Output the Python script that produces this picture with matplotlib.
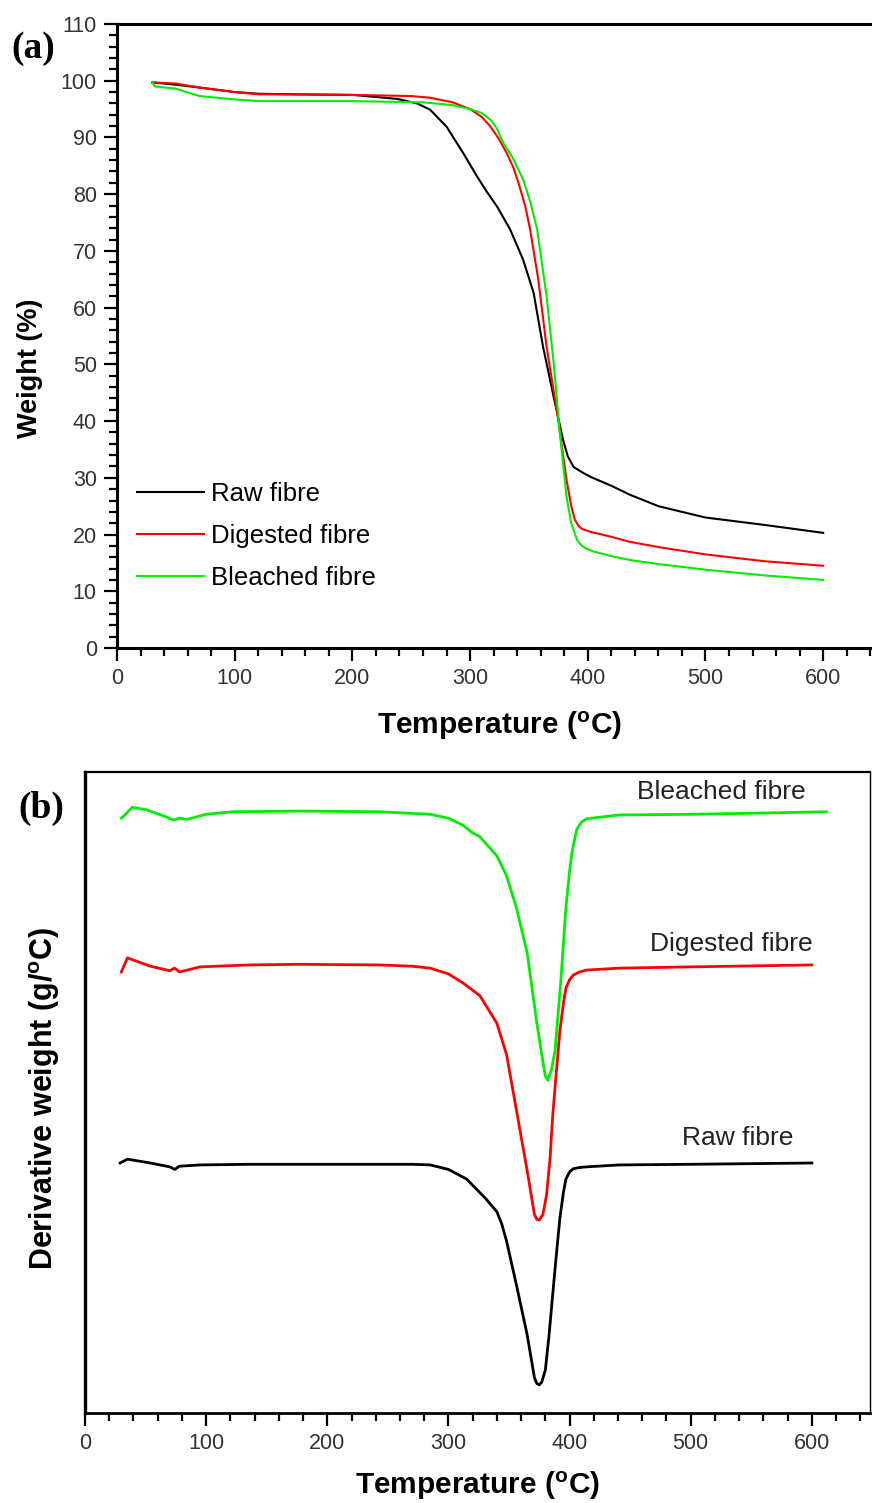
import matplotlib
matplotlib.use("Agg")
import matplotlib.pyplot as plt
from matplotlib.ticker import MultipleLocator

plt.rcParams['font.family'] = ['Liberation Sans', 'DejaVu Sans']
plt.rcParams['mathtext.fontset'] = 'custom'
plt.rcParams['mathtext.rm'] = 'Liberation Sans'
plt.rcParams['mathtext.bf'] = 'Liberation Sans:bold'

# ---------------- Panel (a): TGA ----------------
raw_T = [30, 50, 70, 100, 121, 150, 200, 238, 255, 266, 280, 294, 306, 314, 323, 334, 345,
         354, 362, 371, 379, 383, 388, 395, 402, 420, 436, 460, 500, 550, 600]
raw_W = [99.7, 99.3, 98.8, 98.0, 97.7, 97.6, 97.5, 96.8, 96.0, 94.9, 91.9, 87.3, 83.1, 80.5,
         77.8, 73.8, 68.5, 62.6, 53.1, 44.3, 36.7, 33.8, 31.9, 31.0, 30.2, 28.6, 27.0, 25.0,
         23.0, 21.7, 20.3]

dig_T = [30, 50, 70, 100, 121, 150, 200, 250, 266, 285, 300, 310, 317, 324, 331, 337, 342,
         347, 351, 358, 365, 374, 382, 386, 389, 392, 395, 402, 420, 436, 460, 500, 550, 600]
dig_W = [99.7, 99.5, 98.8, 98.0, 97.6, 97.6, 97.5, 97.3, 97.0, 96.2, 95.0, 93.6, 92.0, 89.9,
         87.3, 84.6, 81.4, 77.8, 73.8, 64.9, 53.1, 41.5, 29.6, 25.0, 22.6, 21.6, 21.0, 20.5,
         19.6, 18.7, 17.8, 16.5, 15.3, 14.5]

ble_T = [30, 32, 50, 70, 100, 121, 150, 200, 260, 285, 300, 310, 318, 323, 328, 336, 345,
         351, 357, 365, 371, 376, 382, 386, 391, 395, 398, 405, 420, 436, 460, 500, 550, 600]
ble_W = [99.8, 99.0, 98.6, 97.3, 96.7, 96.4, 96.4, 96.4, 96.2, 95.7, 95.0, 94.3, 93.0, 91.5,
         89.1, 86.5, 82.6, 78.8, 73.8, 62.0, 50.3, 38.5, 26.6, 22.0, 19.0, 18.0, 17.6, 17.0,
         16.2, 15.5, 14.8, 13.8, 12.8, 12.0]

series_labels = ["Raw fibre", "Digested fibre", "Bleached fibre"]

# ---------------- Panel (b): DTG (arbitrary offset units) ----------------
dtg_ble_T = [30, 33, 39, 51, 67, 73, 78, 84, 100, 122, 177, 243, 285, 300, 312, 320, 326, 340,
             348, 356, 365, 373, 378, 380, 382, 385, 388, 390, 393, 397, 400, 402, 406, 410,
             414, 441, 500, 560, 612]
dtg_ble_y = [92.8, 93.3, 94.5, 94.1, 93.0, 92.5, 92.8, 92.6, 93.4, 93.8, 93.9, 93.8, 93.4,
             92.8, 91.7, 90.5, 89.9, 86.9, 83.8, 78.9, 71.8, 60.8, 54.8, 52.6, 51.9, 53.5,
             56.5, 61.0, 68.0, 78.9, 84.5, 87.5, 91.1, 92.2, 92.7, 93.3, 93.4, 93.6, 93.8]

dtg_dig_T = [30, 35, 54, 70, 74, 78, 95, 136, 177, 243, 270, 285, 300, 312, 326, 340, 348,
             356, 365, 371, 373, 375, 378, 381, 384, 386, 389, 392, 395, 397, 400, 403, 408,
             414, 441, 500, 600]
dtg_dig_y = [68.8, 71.0, 69.7, 69.0, 69.4, 68.8, 69.6, 69.9, 70.0, 69.9, 69.7, 69.4, 68.5,
             67.1, 65.1, 60.8, 55.9, 47.4, 37.8, 31.0, 30.2, 30.1, 31.0, 34.0, 40.0, 46.2,
             53.0, 59.6, 64.0, 66.3, 67.6, 68.3, 68.8, 69.1, 69.4, 69.6, 69.9]

dtg_raw_T = [29, 35, 54, 70, 74, 78, 95, 136, 177, 243, 270, 285, 300, 315, 331, 340, 344,
             348, 356, 365, 371, 373, 375, 377, 380, 383, 386, 389, 392, 395, 397, 400, 403,
             408, 414, 441, 500, 600]
dtg_raw_y = [39.0, 39.6, 39.0, 38.4, 38.0, 38.5, 38.7, 38.8, 38.8, 38.8, 38.8, 38.7, 38.0,
             36.5, 33.4, 31.4, 29.5, 26.8, 20.1, 12.2, 5.5, 4.6, 4.4, 4.8, 6.7, 12.0, 18.3,
             24.5, 30.4, 34.5, 36.5, 37.6, 38.1, 38.3, 38.4, 38.7, 38.8, 39.0]

W, H = 872, 1503
fig = plt.figure(figsize=(W / 100, H / 100), dpi=100)

tick_color = '#333333'
serif = ['Liberation Serif', 'DejaVu Serif']

# ---- Panel (a)
ax1 = fig.add_axes([117 / W, 1 - 648 / H, (882 - 117) / W, (648 - 24) / H])
ax1.plot(raw_T, raw_W, color='black', lw=1.5, label=series_labels[0])
ax1.plot(dig_T, dig_W, color='#ff0000', lw=1.5, label=series_labels[1])
ax1.plot(ble_T, ble_W, color='#00ee00', lw=1.5, label=series_labels[2])
ax1.set_xlim(0, 650)
ax1.set_ylim(0, 110)
ax1.xaxis.set_major_locator(MultipleLocator(100))
ax1.xaxis.set_minor_locator(MultipleLocator(20))
ax1.yaxis.set_major_locator(MultipleLocator(10))
ax1.yaxis.set_minor_locator(MultipleLocator(2))
ax1.spines['right'].set_visible(False)
for s in ['left', 'bottom', 'top']:
    ax1.spines[s].set_linewidth(2.2)
ax1.tick_params(which='major', direction='out', length=9.5, width=1.6, labelsize=15.5,
                labelcolor=tick_color, pad=5)
ax1.tick_params(which='minor', direction='out', length=5.5, width=1.6)
ax1.set_xlabel("Temperature ($\\mathregular{^o}$C)", fontsize=21.5, fontweight='bold', labelpad=15)
ax1.set_ylabel("Weight (%)", fontsize=19.5, fontweight='bold')
ax1.yaxis.set_label_coords(-(117 - 43) / 765, (648 - 368) / 624)
leg = ax1.legend(loc='center left', bbox_to_anchor=(0.026, 0.1795), frameon=False,
                 fontsize=18.5, handlelength=2.6, handletextpad=0.27, labelspacing=0.71,
                 borderpad=0, borderaxespad=0)
fig.text(33 / W, 1 - 48 / H, "(a)", fontsize=27, fontweight='bold',
         family=serif, ha='center', va='center')

# ---- Panel (b)
ax2 = fig.add_axes([85 / W, 1 - 1413 / H, (870 - 85) / W, (1413 - 772) / H])
ax2.plot(dtg_ble_T, dtg_ble_y, color='#00ee00', lw=2)
ax2.plot(dtg_dig_T, dtg_dig_y, color='#ff0000', lw=2)
ax2.plot(dtg_raw_T, dtg_raw_y, color='black', lw=2)
ax2.set_xlim(0, 648)
ax2.set_ylim(0, 100)
ax2.xaxis.set_major_locator(MultipleLocator(100))
ax2.xaxis.set_minor_locator(MultipleLocator(20))
ax2.set_yticks([])
ax2.spines['left'].set_linewidth(2.4)
ax2.spines['bottom'].set_linewidth(2.0)
ax2.spines['top'].set_linewidth(1.6)
ax2.spines['right'].set_linewidth(1.0)
ax2.tick_params(axis='x', which='major', direction='out', length=9.5, width=1.6,
                labelsize=15.5, labelcolor=tick_color, pad=5)
ax2.tick_params(axis='x', which='minor', direction='out', length=5.5, width=1.6)
ax2.set_xlabel("Temperature ($\\mathregular{^o}$C)", fontsize=21.5, fontweight='bold', labelpad=11)
ax2.set_ylabel("Derivative weight (g/$\\mathregular{^o}$C)", fontsize=22, fontweight='bold')
ax2.yaxis.set_label_coords(-(85 - 62) / 785, (1413 - 1098) / 641)
ax2.text(525.6, 96.9, series_labels[2], fontsize=19, ha='center', va='center', color='#222222')
ax2.text(533.8, 73.2, series_labels[1], fontsize=19, ha='center', va='center', color='#222222')
ax2.text(538.8, 42.9, series_labels[0], fontsize=19, ha='center', va='center', color='#222222')
fig.text(41 / W, 1 - 808 / H, "(b)", fontsize=27, fontweight='bold',
         family=serif, ha='center', va='center')

fig.savefig("out.png", dpi=100)
